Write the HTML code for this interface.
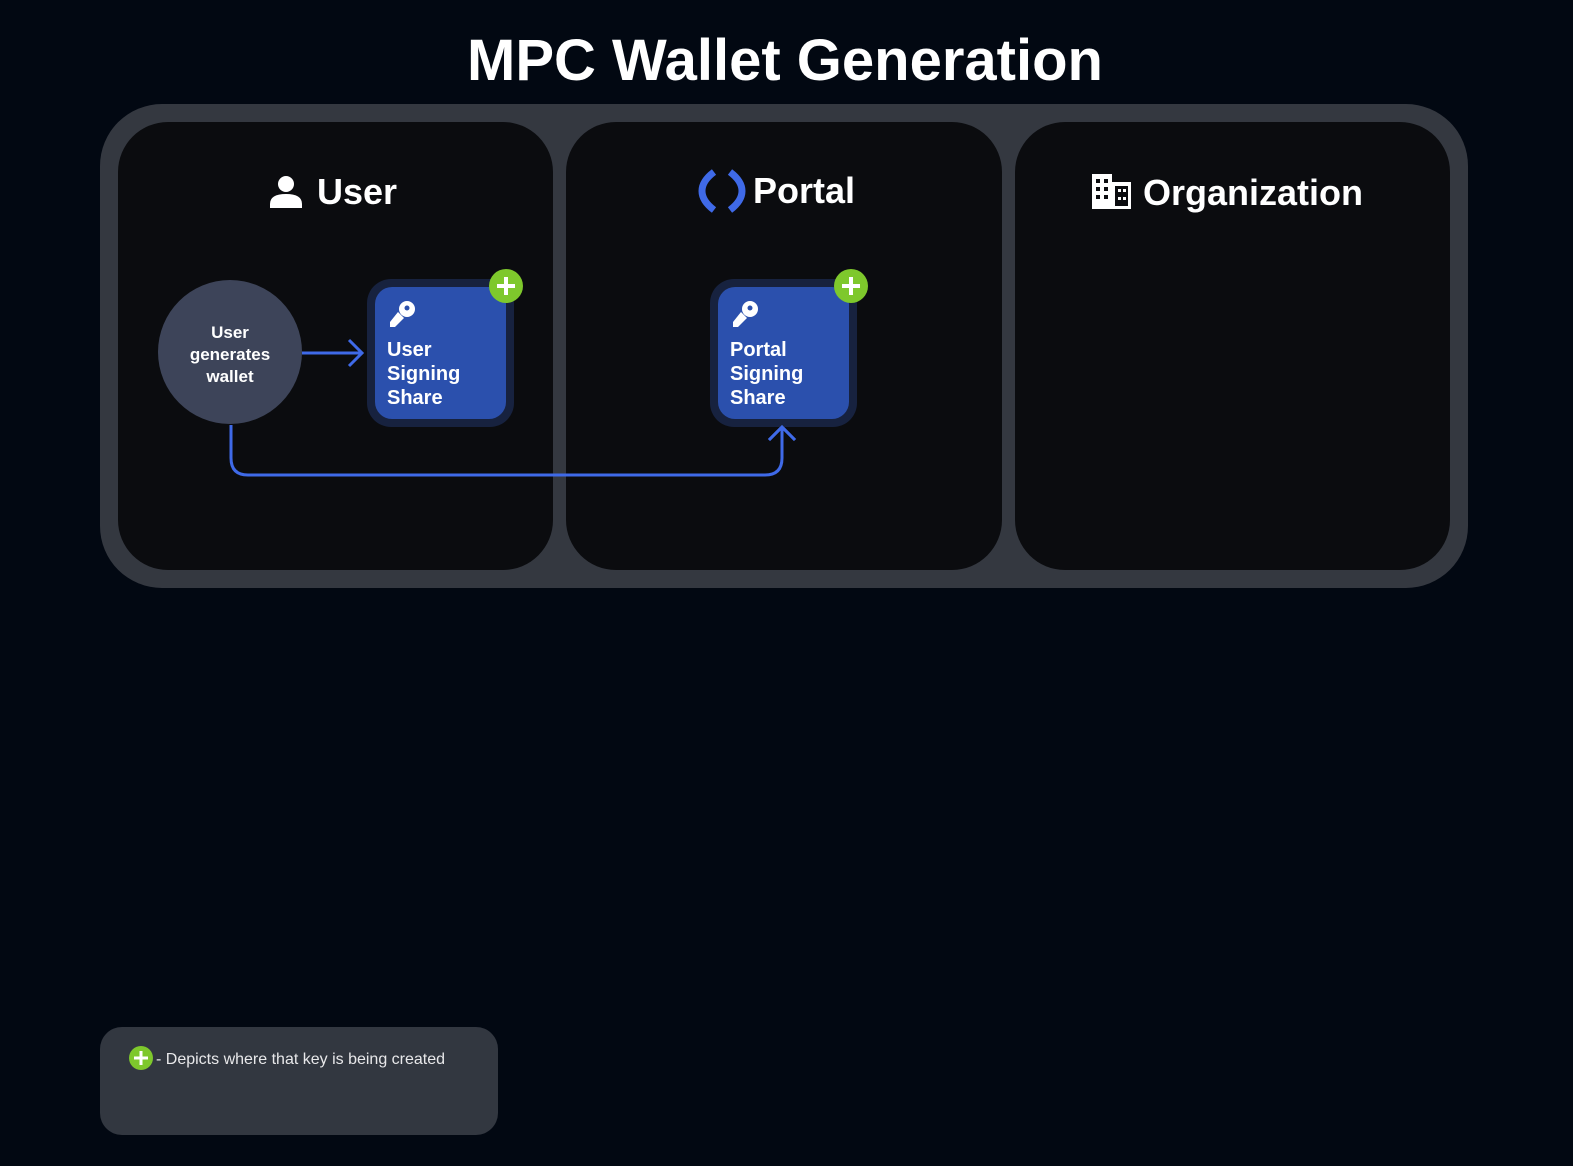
<!DOCTYPE html>
<html><head><meta charset="utf-8"><style>
html,body{margin:0;padding:0;background:#020812;}
body{width:1573px;height:1166px;position:relative;overflow:hidden;font-family:"Liberation Sans",sans-serif;}
</style></head><body>
<svg width="1573" height="1166" viewBox="0 0 1573 1166" xmlns="http://www.w3.org/2000/svg" style="position:absolute;left:0;top:0">
<rect width="1573" height="1166" fill="#020812"/>
<text x="785" y="80" text-anchor="middle" font-family="Liberation Sans, sans-serif" font-weight="bold" font-size="58" fill="#fff">MPC Wallet Generation</text>
<rect x="100" y="104" width="1368" height="484" rx="62" fill="#343840"/>
<rect x="118" y="122" width="435" height="448" rx="50" fill="#0b0c0f"/>
<rect x="566" y="122" width="436" height="448" rx="50" fill="#0b0c0f"/>
<rect x="1015" y="122" width="435" height="448" rx="50" fill="#0b0c0f"/>

<!-- User header -->
<circle cx="286" cy="184" r="8" fill="#fff"/>
<path d="M270 208 v-4 q0-10 16-10 q16 0 16 10 v4 z" fill="#fff"/>
<text x="317" y="204" font-family="Liberation Sans, sans-serif" font-weight="bold" font-size="36" fill="#fff">User</text>
<!-- Portal header -->
<path d="M714 172 q-12 9 -12 19 q0 10 12 19" stroke="#3f6ae8" stroke-width="7" fill="none"/>
<path d="M730 172 q12 9 12 19 q0 10 -12 19" stroke="#3f6ae8" stroke-width="7" fill="none"/>
<text x="753" y="203" font-family="Liberation Sans, sans-serif" font-weight="bold" font-size="36" fill="#fff">Portal</text>
<!-- Org header -->
<g fill="#fff">
<rect x="1092" y="174" width="20" height="35"/>
<rect x="1112" y="182" width="19" height="27"/>
</g>
<g fill="#0b0c0f">
<rect x="1096" y="179" width="4" height="4"/><rect x="1104" y="179" width="4" height="4"/>
<rect x="1096" y="187" width="4" height="4"/><rect x="1104" y="187" width="4" height="4"/>
<rect x="1096" y="195" width="4" height="4"/><rect x="1104" y="195" width="4" height="4"/>
<rect x="1115" y="186" width="13" height="20"/>
</g>
<g fill="#fff"><rect x="1118" y="189" width="3" height="3"/><rect x="1123" y="189" width="3" height="3"/><rect x="1118" y="197" width="3" height="3"/><rect x="1123" y="197" width="3" height="3"/></g>
<text x="1143" y="205" font-family="Liberation Sans, sans-serif" font-weight="bold" font-size="36" fill="#fff">Organization</text>

<!-- connector bottom -->
<path d="M231 425 V458 Q231 475 248 475 H765 Q782 475 782 458 V428" stroke="#3f6ae8" stroke-width="3" fill="none"/>
<path d="M769 440 L782 427 L795 440" stroke="#3f6ae8" stroke-width="3" fill="none"/>
<!-- connector right -->
<path d="M302 353 H362" stroke="#3f6ae8" stroke-width="3"/>
<path d="M349 340 L362 353 L349 366" stroke="#3f6ae8" stroke-width="3" fill="none"/>

<!-- circle -->
<circle cx="230" cy="352" r="72" fill="#3d4459"/>
<g font-family="Liberation Sans, sans-serif" font-weight="bold" font-size="17" fill="#fff" text-anchor="middle">
<text x="230" y="338">User</text><text x="230" y="360">generates</text><text x="230" y="382">wallet</text>
</g>

<!-- user box -->
<rect x="367" y="279" width="147" height="148" rx="24" fill="#17223f"/>
<rect x="375" y="287" width="131" height="132" rx="17" fill="#2b50ad"/>
<g fill="#fff"><circle cx="407" cy="309" r="8"/><path d="M398 312 l6 6 -9 9 h-5 v-5 z"/></g>
<circle cx="407" cy="308" r="2.5" fill="#2b50ad"/>
<g font-family="Liberation Sans, sans-serif" font-weight="bold" font-size="20" fill="#fff">
<text x="387" y="356">User</text><text x="387" y="380">Signing</text><text x="387" y="404">Share</text></g>
<circle cx="506" cy="286" r="17" fill="#7ec82c"/>
<path d="M506 277 V295 M497 286 H515" stroke="#fff" stroke-width="4"/>

<!-- portal box -->
<rect x="710" y="279" width="147" height="148" rx="24" fill="#17223f"/>
<rect x="718" y="287" width="131" height="132" rx="17" fill="#2b50ad"/>
<g fill="#fff"><circle cx="750" cy="309" r="8"/><path d="M741 312 l6 6 -9 9 h-5 v-5 z"/></g>
<circle cx="750" cy="308" r="2.5" fill="#2b50ad"/>
<g font-family="Liberation Sans, sans-serif" font-weight="bold" font-size="20" fill="#fff">
<text x="730" y="356">Portal</text><text x="730" y="380">Signing</text><text x="730" y="404">Share</text></g>
<circle cx="851" cy="286" r="17" fill="#7ec82c"/>
<path d="M851 277 V295 M842 286 H860" stroke="#fff" stroke-width="4"/>
<!-- redraw arrow over box border -->
<path d="M769 440 L782 427 L795 440" stroke="#3f6ae8" stroke-width="3" fill="none"/>

<!-- legend -->
<rect x="100" y="1027" width="398" height="108" rx="22" fill="#323740"/>
<circle cx="141" cy="1058" r="12" fill="#7ec82c"/>
<path d="M141 1051 V1065 M134 1058 H148" stroke="#fff" stroke-width="3"/>
<text x="156" y="1064" font-family="Liberation Sans, sans-serif" font-size="16" fill="#e8e8ea">- Depicts where that key is being created</text>
</svg>
</body></html>
